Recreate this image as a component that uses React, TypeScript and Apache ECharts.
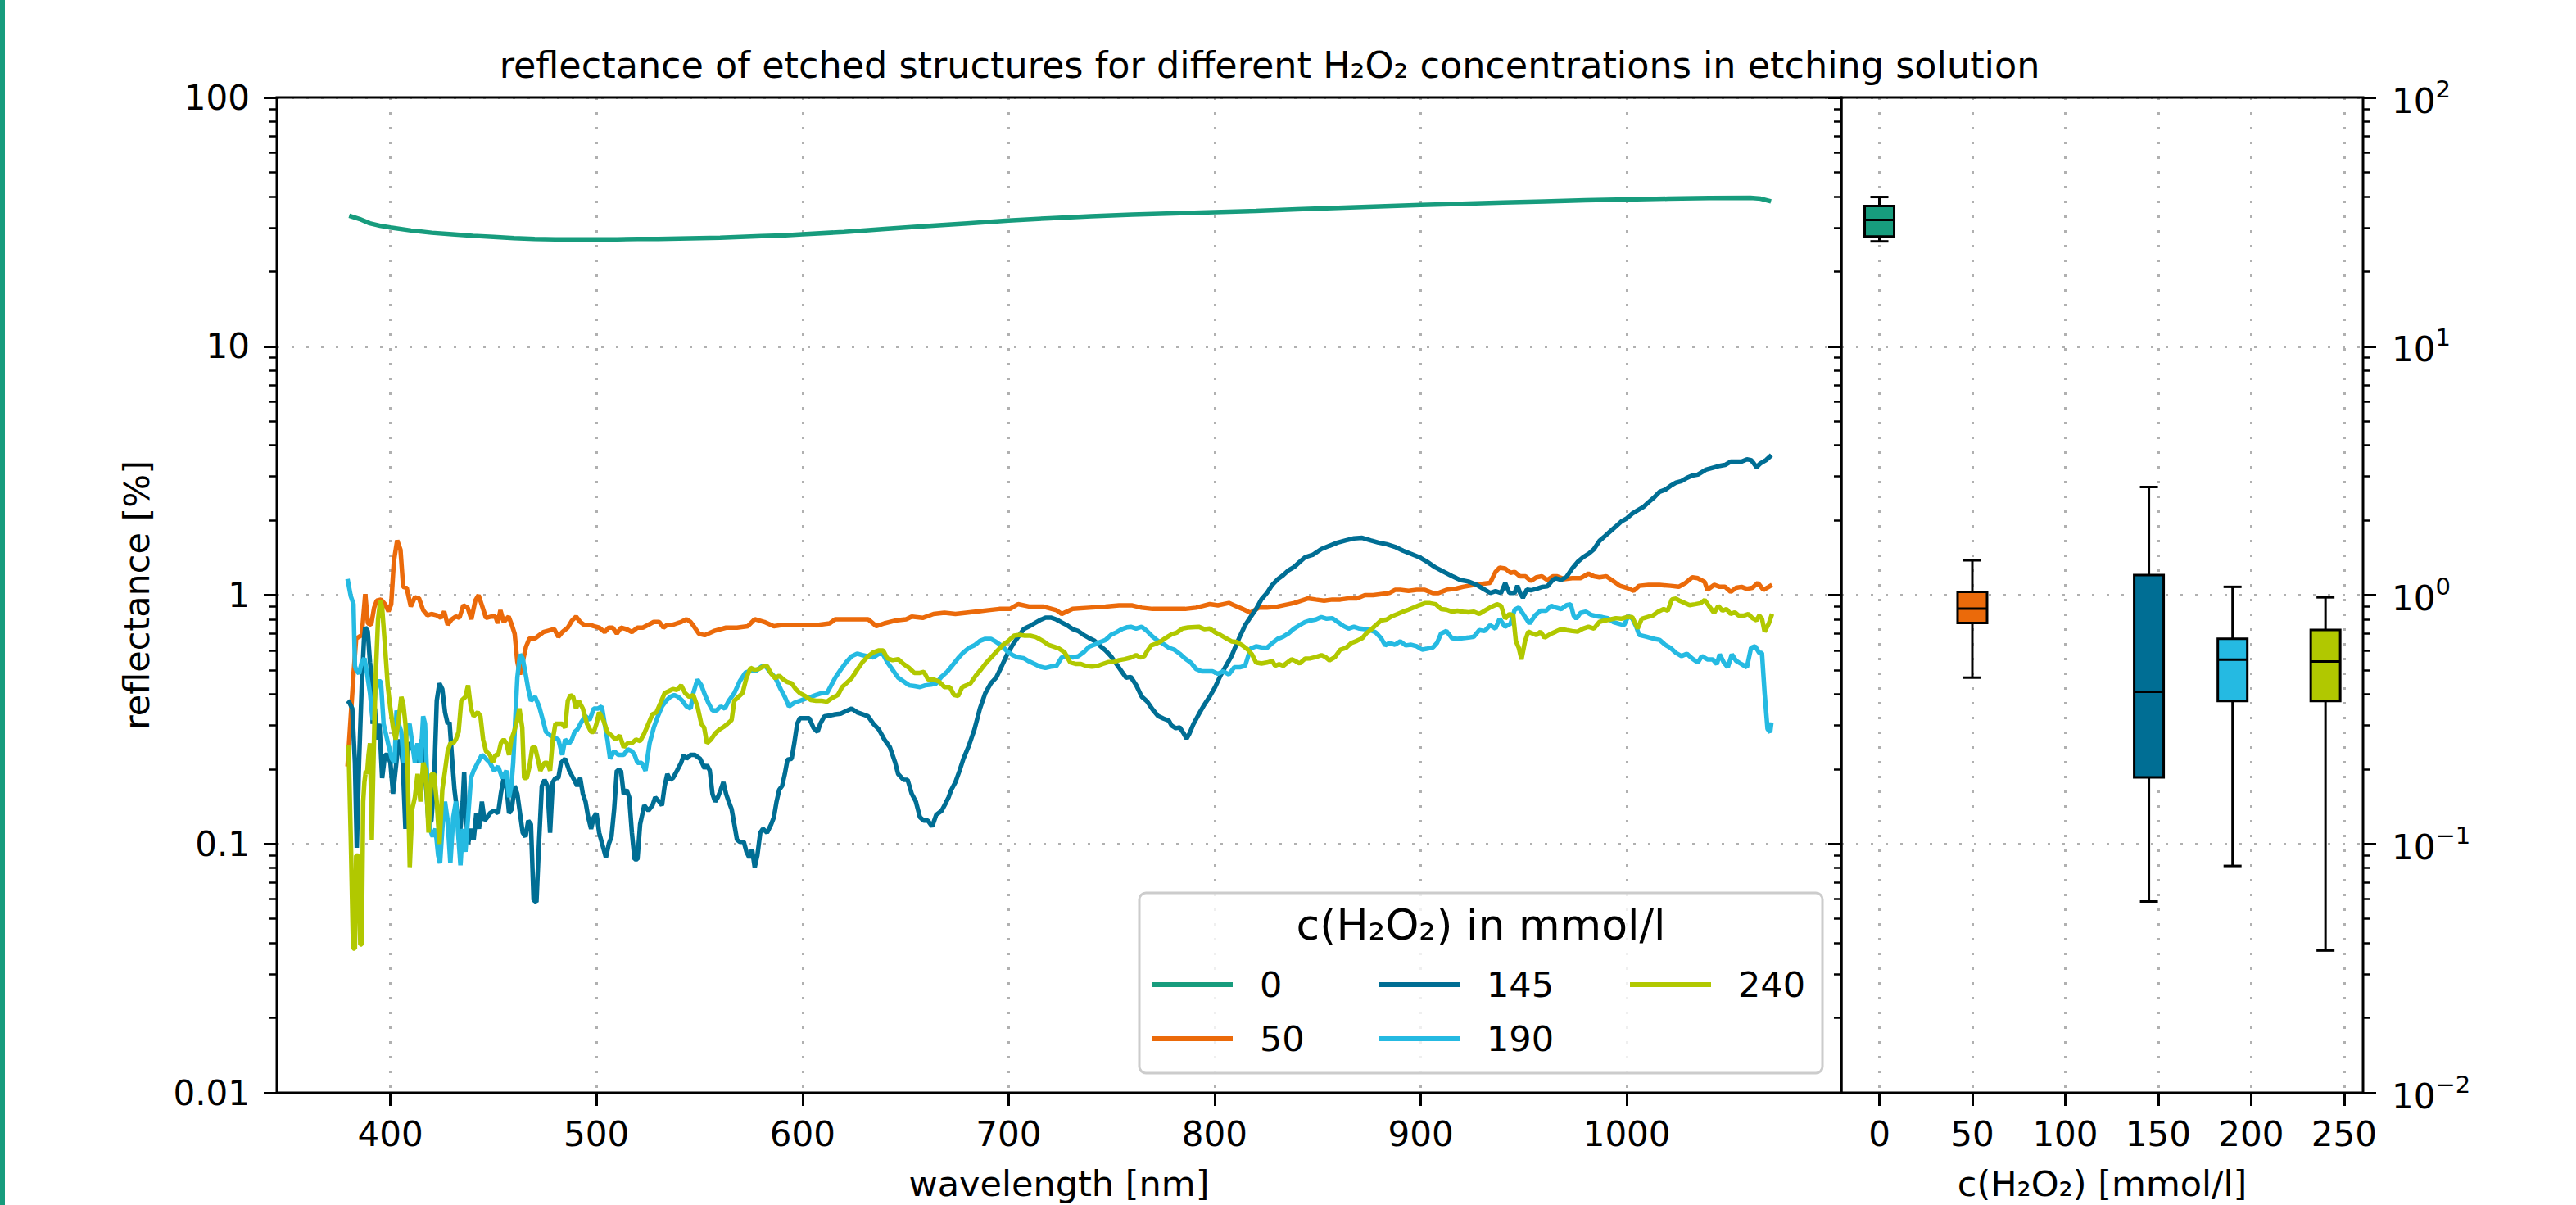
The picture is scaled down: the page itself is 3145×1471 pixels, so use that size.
import React, { useEffect, useRef } from 'react';
import * as echarts from 'echarts';

const FONT = 'DejaVu Sans';

const TITLE = 'reflectance of etched structures for different H\u2082O\u2082 concentrations in etching solution';
const LEGEND_TITLE = 'c(H\u2082O\u2082) in mmol/l';
const X_NAME_LEFT = 'wavelength [nm]';
const X_NAME_RIGHT = 'c(H\u2082O\u2082) [mmol/l]';
const Y_NAME = 'reflectance [%]';

const concentrations = ['0', '50', '145', '190', '240'];
const seriesColors = ['#179c7d', '#eb6a0a', '#006e94', '#25bae2', '#b1c800'];

const wavelengthTicks = [400, 500, 600, 700, 800, 900, 1000];
const concTicks = [0, 50, 100, 150, 200, 250];
const reflMajorTicks = [0.01, 0.1, 1, 10, 100];
const reflMajorLabels = ['0.01', '0.1', '1', '10', '100'];
const reflExpLabels = ['\u22122', '\u22121', '0', '1', '2'];
const reflMinorTicks = [
  0.02, 0.03, 0.04, 0.05, 0.06, 0.07, 0.08, 0.09,
  0.2, 0.3, 0.4, 0.5, 0.6, 0.7, 0.8, 0.9,
  2, 3, 4, 5, 6, 7, 8, 9,
  20, 30, 40, 50, 60, 70, 80, 90,
];

// reflectance spectra: [wavelength nm, reflectance %]
const refl0 = [
  [380, 33.5], [385, 32.5], [390, 31.2], [395, 30.5], [400, 30.0], [410, 29.2], [420, 28.6], [430, 28.2],
  [440, 27.8], [450, 27.5], [460, 27.2], [470, 27.0], [480, 26.9], [490, 26.9], [500, 26.9], [510, 26.9],
  [520, 27.0], [530, 27.0], [540, 27.1], [550, 27.2], [560, 27.3], [570, 27.5], [580, 27.7], [590, 27.9],
  [600, 28.2], [620, 28.8], [640, 29.6], [660, 30.4], [680, 31.2], [700, 32.0], [720, 32.7], [740, 33.3],
  [760, 33.8], [780, 34.2], [800, 34.6], [820, 35.0], [840, 35.5], [860, 36.0], [880, 36.5], [900, 37.0],
  [920, 37.4], [940, 37.8], [960, 38.2], [980, 38.6], [1000, 38.9], [1020, 39.2], [1040, 39.4], [1060, 39.5],
  [1065, 39.2], [1070, 38.2],
];

const refl50 = [
  [379.2, 0.205], [382.1, 0.48], [383.4, 0.67], [384.8, 0.68], [386.1, 0.69], [387.8, 1.01], [389.1, 0.77],
  [390.7, 0.76], [392.1, 0.89], [393.4, 0.95], [395.4, 0.96], [397.4, 0.92], [399.1, 0.86], [400.4, 0.92],
  [401.7, 1.37], [403.3, 1.66], [404.9, 1.52], [406.2, 1.08], [407.9, 1.07], [409.9, 0.90], [411.9, 0.98],
  [413.9, 0.97], [415.9, 0.87], [417.9, 0.83], [419.9, 0.84], [422.5, 0.83], [424.5, 0.81], [426.1, 0.86],
  [427.8, 0.76], [429.8, 0.80], [431.8, 0.82], [433.5, 0.81], [435.4, 0.91], [437.5, 0.89], [439.3, 0.80],
  [441.2, 0.95], [442.8, 1.00], [444.6, 0.90], [446.4, 0.81], [449.0, 0.82], [451.0, 0.82], [452.1, 0.77],
  [453.4, 0.87], [455.0, 0.78], [457.4, 0.82], [458.9, 0.76], [460.3, 0.70], [461.6, 0.54], [462.9, 0.48],
  [464.2, 0.54], [465.8, 0.62], [467.5, 0.67], [470.2, 0.67], [472.2, 0.69], [474.2, 0.71], [476.8, 0.72],
  [479.5, 0.73], [481.5, 0.68], [483.4, 0.71], [486.1, 0.74], [488.1, 0.79], [490.1, 0.82], [492.1, 0.78],
  [494.0, 0.76], [496.7, 0.76], [498.7, 0.75], [501.3, 0.74], [504.0, 0.71], [506.0, 0.74], [507.9, 0.74],
  [509.9, 0.70], [511.9, 0.74], [514.6, 0.73], [517.2, 0.71], [519.9, 0.74], [522.5, 0.74], [525.2, 0.76],
  [527.8, 0.78], [530.5, 0.78], [532.5, 0.74], [534.4, 0.76], [537.1, 0.76], [539.1, 0.77], [541.1, 0.78],
  [543.7, 0.80], [545.7, 0.78], [547.7, 0.74], [549.7, 0.70], [552.5, 0.69],
  [557.6, 0.72], [562.9, 0.74], [568.2, 0.74], [573.5, 0.75], [576.8, 0.80], [581.5, 0.78], [586.1, 0.75],
  [590.7, 0.76], [596.0, 0.76], [601.3, 0.76], [607.9, 0.76], [613.2, 0.77], [615.9, 0.80], [621.2, 0.80],
  [626.5, 0.80], [631.8, 0.80], [635.8, 0.75], [639.7, 0.77], [645.0, 0.79], [650.3, 0.80], [653.0, 0.82],
  [658.3, 0.81], [663.6, 0.84], [668.9, 0.85], [674.2, 0.84], [679.5, 0.85], [684.8, 0.86], [690.1, 0.87],
  [695.4, 0.88], [700.7, 0.88], [704.6, 0.92], [709.9, 0.90], [716.6, 0.90], [723.2, 0.87], [725.8, 0.84],
  [731.1, 0.88], [739.1, 0.89], [747.0, 0.90], [753.6, 0.91], [759.7, 0.91],
  [764.6, 0.89], [769.9, 0.88], [775.2, 0.88], [780.4, 0.88], [785.7, 0.88], [791.0, 0.89], [797.6, 0.92],
  [801.6, 0.91], [806.9, 0.93], [809.5, 0.91], [813.5, 0.88], [817.4, 0.85], [821.4, 0.89], [825.4, 0.89],
  [830.6, 0.90], [838.6, 0.93], [845.2, 0.97], [849.1, 0.96], [853.1, 0.95], [857.1, 0.96], [861.0, 0.96],
  [865.0, 0.97], [869.0, 0.97], [872.9, 1.00], [876.9, 1.00], [880.8, 1.01], [884.8, 1.02], [887.5, 1.05],
  [890.1, 1.05], [894.1, 1.04], [898.0, 1.05], [902.0, 1.05], [905.9, 1.02], [908.6, 1.02], [912.5, 1.05],
  [916.5, 1.06], [920.5, 1.08], [925.8, 1.10], [929.7, 1.11], [933.7, 1.12], [936.3, 1.24], [938.3, 1.29],
  [940.9, 1.28], [943.6, 1.23], [945.6, 1.24], [948.2, 1.19], [950.9, 1.19], [953.5, 1.14], [956.1, 1.18],
  [958.8, 1.19], [961.4, 1.15], [964.1, 1.19], [966.2, 1.19],
  [969.5, 1.16], [973.5, 1.17], [977.5, 1.17], [981.4, 1.22], [984.1, 1.19], [986.7, 1.18], [990.1, 1.19],
  [993.4, 1.14], [996.7, 1.09], [1000.0, 1.07], [1003.3, 1.04], [1006.0, 1.09], [1010.6, 1.10], [1015.9, 1.10],
  [1021.2, 1.09], [1025.2, 1.08], [1028.5, 1.12], [1031.8, 1.18], [1034.5, 1.17], [1037.8, 1.13], [1039.1, 1.05],
  [1042.4, 1.10], [1045.1, 1.08], [1047.7, 1.08], [1050.4, 1.03], [1053.0, 1.07], [1055.7, 1.08], [1058.3, 1.06],
  [1061.0, 1.07], [1063.6, 1.12], [1066.3, 1.05], [1068.9, 1.08], [1070.5, 1.10],
];

const refl145 = [
  [379.2, 0.376], [380.1, 0.370], [381.5, 0.350], [382.8, 0.212], [383.7, 0.0965], [384.8, 0.212], [386.1, 0.434],
  [387.2, 0.667], [387.8, 0.743], [389.0, 0.717], [390.1, 0.538], [390.7, 0.483], [391.4, 0.304], [392.5, 0.350],
  [393.4, 0.263], [394.7, 0.304], [396.0, 0.184], [397.4, 0.228], [398.7, 0.228], [400.0, 0.212], [401.3, 0.159],
  [402.3, 0.191], [403.3, 0.228], [404.6, 0.263], [406.0, 0.212], [407.3, 0.115], [408.6, 0.254], [409.9, 0.249],
  [411.3, 0.236], [412.6, 0.245], [413.9, 0.212], [415.2, 0.263], [416.6, 0.197], [417.6, 0.159], [418.5, 0.120],
  [419.9, 0.124], [421.2, 0.177], [422.5, 0.376], [423.8, 0.442], [425.2, 0.419], [426.5, 0.338], [427.8, 0.304],
  [428.7, 0.309], [429.8, 0.228], [431.1, 0.165], [432.5, 0.133], [433.8, 0.111], [435.1, 0.148], [435.8, 0.194],
  [436.4, 0.143], [437.7, 0.100], [439.1, 0.115], [440.4, 0.104], [441.7, 0.133], [443.0, 0.115], [444.4, 0.148],
  [445.7, 0.124], [447.0, 0.128], [448.3, 0.133], [450.3, 0.136], [452.3, 0.133], [453.6, 0.159], [455.0, 0.184],
  [456.3, 0.171], [457.6, 0.133], [458.9, 0.138], [460.3, 0.171], [461.6, 0.159], [462.9, 0.133], [464.2, 0.111],
  [465.6, 0.107], [466.9, 0.124], [468.2, 0.120], [469.5, 0.0595], [470.9, 0.0584], [472.2, 0.104], [473.5, 0.171],
  [474.8, 0.181], [476.2, 0.171], [477.5, 0.111], [478.8, 0.177], [480.1, 0.184], [481.5, 0.184], [482.8, 0.212],
  [484.8, 0.220], [486.8, 0.197], [488.7, 0.184], [490.7, 0.171], [492.1, 0.184], [493.4, 0.159], [494.7, 0.148],
  [496.0, 0.128], [497.4, 0.115], [498.7, 0.128], [500.0, 0.133], [501.3, 0.111], [503.3, 0.0965], [504.6, 0.0883],
  [506.0, 0.100], [507.3, 0.107], [508.6, 0.138], [509.9, 0.197], [511.9, 0.197], [513.2, 0.159], [514.6, 0.165],
  [515.9, 0.154], [517.2, 0.111], [518.5, 0.0867], [519.9, 0.0867], [521.2, 0.120], [523.2, 0.143], [525.2, 0.136],
  [527.2, 0.143], [528.5, 0.154], [530.5, 0.148], [531.8, 0.143], [533.1, 0.171], [534.4, 0.191], [535.8, 0.181],
  [537.1, 0.184], [539.1, 0.197], [541.1, 0.212], [542.4, 0.228], [543.7, 0.220], [545.7, 0.228], [547.7, 0.228],
  [550.3, 0.220], [552.5, 0.201],
  [553.6, 0.208], [555.0, 0.197], [556.3, 0.159], [557.6, 0.148], [558.9, 0.154], [560.3, 0.165], [561.6, 0.177],
  [562.9, 0.159], [564.2, 0.148], [565.6, 0.138], [566.9, 0.120], [568.2, 0.104], [569.5, 0.102], [571.5, 0.102],
  [572.8, 0.093], [574.2, 0.088], [575.5, 0.095], [576.8, 0.0807], [578.1, 0.090], [579.5, 0.111], [580.8, 0.115],
  [582.8, 0.111], [584.8, 0.120], [586.1, 0.128], [587.4, 0.148], [588.7, 0.165], [590.1, 0.171], [591.4, 0.191],
  [592.7, 0.218], [594.7, 0.220], [596.0, 0.254], [597.4, 0.304], [598.7, 0.320], [601.3, 0.320], [603.3, 0.320],
  [605.3, 0.293], [607.3, 0.282], [608.6, 0.304], [610.6, 0.326], [613.2, 0.328], [615.9, 0.332], [618.5, 0.334],
  [621.2, 0.342], [623.8, 0.350], [626.5, 0.338], [629.1, 0.332], [631.8, 0.326], [634.4, 0.304], [637.1, 0.288],
  [639.7, 0.263], [642.4, 0.245], [645.0, 0.212], [646.4, 0.191], [649.0, 0.181], [651.0, 0.181], [653.0, 0.159],
  [655.0, 0.148], [657.0, 0.128], [658.9, 0.124], [660.9, 0.124], [662.9, 0.1175], [664.9, 0.131], [667.5, 0.136],
  [669.5, 0.146], [670.9, 0.154], [672.2, 0.165], [674.2, 0.177], [676.2, 0.197], [678.1, 0.220], [680.8, 0.249],
  [683.4, 0.288], [686.1, 0.350], [688.7, 0.404], [691.4, 0.442], [694.0, 0.466], [696.7, 0.519], [699.3, 0.578],
  [702.0, 0.632], [704.6, 0.679], [707.3, 0.730], [709.9, 0.748], [712.6, 0.770], [715.2, 0.793], [717.9, 0.812],
  [720.5, 0.812], [723.2, 0.798], [725.8, 0.776], [728.5, 0.756], [731.1, 0.730], [733.8, 0.717], [736.4, 0.692],
  [739.1, 0.672], [741.7, 0.655], [744.4, 0.626], [747.0, 0.600], [749.7, 0.568], [752.3, 0.529], [755.0, 0.492],
  [757.0, 0.466],
  [759.3, 0.469], [761.9, 0.435], [764.6, 0.391], [767.2, 0.374], [769.9, 0.347], [772.5, 0.327], [775.2, 0.319],
  [777.8, 0.313], [779.1, 0.299], [781.1, 0.292], [783.1, 0.294], [785.1, 0.277], [786.4, 0.265], [787.7, 0.277],
  [789.7, 0.303], [792.3, 0.332], [795.0, 0.363], [797.6, 0.391], [800.3, 0.428], [802.9, 0.476], [805.5, 0.520],
  [808.2, 0.569], [810.2, 0.623], [812.2, 0.681], [814.8, 0.757], [817.4, 0.816], [820.1, 0.879], [822.7, 0.962],
  [825.4, 1.021], [828.0, 1.101], [830.6, 1.158], [833.3, 1.204], [835.9, 1.260], [838.6, 1.298], [841.2, 1.358],
  [843.9, 1.420], [847.8, 1.455], [851.8, 1.531], [855.7, 1.578], [859.7, 1.626], [863.7, 1.660], [867.6, 1.690],
  [871.6, 1.700], [875.6, 1.660], [879.5, 1.626], [883.5, 1.602], [887.5, 1.563], [891.4, 1.508], [895.4, 1.464],
  [899.3, 1.420], [903.3, 1.358], [907.3, 1.290], [911.2, 1.241], [915.2, 1.193], [919.2, 1.151], [923.1, 1.134],
  [927.1, 1.101], [931.1, 1.052], [933.7, 1.021], [936.3, 1.037], [939.0, 1.021], [941.0, 1.117], [943.0, 1.021],
  [945.6, 1.021], [946.9, 1.091], [948.2, 1.021], [949.6, 0.976], [951.5, 1.052], [953.5, 1.046], [956.1, 1.059],
  [958.8, 1.078], [961.4, 1.084], [964.1, 1.151],
  [965.5, 1.169], [968.2, 1.151], [970.8, 1.186], [973.5, 1.279], [976.1, 1.358], [978.8, 1.420], [981.4, 1.464],
  [984.1, 1.531], [986.7, 1.650], [989.4, 1.726], [992.0, 1.805], [994.7, 1.888], [997.3, 1.975], [1000.0, 2.035],
  [1002.7, 2.129], [1005.3, 2.193], [1008.0, 2.260], [1010.6, 2.364], [1013.3, 2.473], [1015.9, 2.603],
  [1018.6, 2.650], [1021.2, 2.747], [1023.9, 2.831], [1026.5, 2.873], [1029.2, 2.960], [1031.8, 3.023],
  [1034.5, 3.050], [1038.4, 3.19], [1042.4, 3.26], [1045.1, 3.307], [1047.7, 3.337], [1050.4, 3.44], [1053.0, 3.44],
  [1055.7, 3.44], [1058.3, 3.512], [1060.3, 3.49], [1061.6, 3.388], [1063.0, 3.268], [1064.9, 3.388],
  [1067.6, 3.49], [1070.2, 3.652],
];

const refl190 = [
  [379.2, 1.162], [380.8, 0.989], [382.1, 0.921], [382.8, 0.519], [383.4, 0.501], [384.8, 0.483], [386.1, 0.538],
  [387.4, 0.558], [388.7, 0.483], [390.1, 0.404], [391.4, 0.315], [392.7, 0.404], [394.0, 0.450], [395.4, 0.450],
  [396.7, 0.304], [398.0, 0.273], [399.3, 0.245], [400.7, 0.220], [402.0, 0.212], [403.0, 0.344], [404.0, 0.304],
  [405.3, 0.282], [406.6, 0.212], [407.9, 0.282], [409.3, 0.304], [410.6, 0.254], [411.9, 0.212], [413.2, 0.254],
  [414.6, 0.212], [415.9, 0.326], [416.8, 0.304], [417.9, 0.177], [419.2, 0.115], [420.5, 0.107], [421.9, 0.115],
  [423.2, 0.0898], [424.1, 0.0836], [425.2, 0.115], [426.5, 0.148], [427.8, 0.124], [429.1, 0.0836], [430.5, 0.128],
  [431.8, 0.148], [433.1, 0.104], [434.0, 0.0821], [435.1, 0.115], [436.4, 0.093], [437.7, 0.128], [439.1, 0.184],
  [440.4, 0.197], [442.4, 0.212], [444.4, 0.228], [446.4, 0.220], [448.3, 0.212], [450.3, 0.197], [452.3, 0.205],
  [454.3, 0.184], [456.3, 0.197], [457.6, 0.154], [458.7, 0.171], [459.6, 0.212], [460.5, 0.304], [461.6, 0.466],
  [462.9, 0.578], [464.2, 0.558], [465.6, 0.483], [466.9, 0.419], [468.2, 0.376], [470.2, 0.390], [472.2, 0.357],
  [473.5, 0.326], [475.5, 0.282], [477.5, 0.273], [479.5, 0.268], [481.5, 0.263], [483.4, 0.228], [484.8, 0.263],
  [486.8, 0.254], [488.1, 0.263], [489.4, 0.282], [490.7, 0.288], [492.7, 0.309], [494.7, 0.326], [496.7, 0.315],
  [498.7, 0.350], [500.7, 0.350], [502.6, 0.357], [504.0, 0.304], [505.3, 0.263], [506.6, 0.220], [508.6, 0.236],
  [510.6, 0.228], [513.2, 0.228], [515.2, 0.240], [517.2, 0.236], [518.5, 0.228], [519.9, 0.212], [521.9, 0.212],
  [523.8, 0.197], [525.8, 0.254], [527.8, 0.293], [529.8, 0.326], [531.8, 0.357], [533.8, 0.376], [535.8, 0.390],
  [537.7, 0.397], [539.7, 0.390], [541.7, 0.376], [543.7, 0.357], [545.7, 0.350], [547.0, 0.404], [549.0, 0.458],
  [550.9, 0.434],
  [552.3, 0.404], [554.3, 0.369], [556.3, 0.344], [558.3, 0.344], [560.3, 0.357], [562.3, 0.350], [564.2, 0.376],
  [566.9, 0.404], [569.5, 0.450], [572.2, 0.487], [574.8, 0.497], [577.5, 0.497], [580.1, 0.516], [582.1, 0.519],
  [584.1, 0.492], [586.8, 0.466], [589.4, 0.419], [591.4, 0.390], [593.4, 0.357], [596.0, 0.369], [598.7, 0.376],
  [601.3, 0.383], [604.0, 0.390], [606.6, 0.397], [609.3, 0.404], [611.9, 0.404], [613.9, 0.434], [615.9, 0.466],
  [618.5, 0.501], [621.2, 0.538], [623.8, 0.568], [626.5, 0.582], [629.1, 0.574], [631.8, 0.568], [634.4, 0.562],
  [637.1, 0.582], [639.1, 0.578], [641.1, 0.538], [643.7, 0.501], [646.4, 0.466], [649.0, 0.450], [651.7, 0.434],
  [654.3, 0.431], [657.0, 0.427], [659.6, 0.434], [662.3, 0.437], [664.9, 0.442], [667.5, 0.470], [670.2, 0.492],
  [672.8, 0.523], [675.5, 0.558], [678.1, 0.589], [680.8, 0.614], [683.4, 0.628], [686.1, 0.655], [688.7, 0.667],
  [691.4, 0.667], [694.0, 0.648], [696.7, 0.626], [699.3, 0.595], [702.0, 0.574], [704.6, 0.562], [707.3, 0.558],
  [709.9, 0.542], [712.6, 0.529], [715.2, 0.516], [717.9, 0.510], [720.5, 0.516], [723.2, 0.519], [725.8, 0.562],
  [728.5, 0.568], [731.1, 0.562], [733.8, 0.568], [736.4, 0.589], [739.1, 0.621], [741.7, 0.632], [744.4, 0.648],
  [747.0, 0.660], [749.7, 0.692], [752.3, 0.709], [755.0, 0.730], [757.6, 0.743],
  [759.3, 0.746], [761.9, 0.734], [764.6, 0.746], [767.2, 0.717], [769.9, 0.681], [772.5, 0.655], [775.2, 0.636],
  [777.8, 0.614], [780.4, 0.604], [783.1, 0.581], [785.7, 0.556], [788.4, 0.536], [791.0, 0.505], [793.7, 0.494],
  [796.3, 0.494], [798.9, 0.494], [801.6, 0.483], [804.2, 0.494], [806.9, 0.480], [809.5, 0.513], [812.2, 0.513],
  [814.8, 0.520], [817.4, 0.610], [820.1, 0.623], [822.7, 0.617], [825.4, 0.614], [828.0, 0.642], [830.6, 0.667],
  [833.3, 0.681], [835.9, 0.702], [838.6, 0.734], [841.2, 0.757], [843.9, 0.780], [846.5, 0.791], [849.1, 0.798],
  [851.8, 0.816], [854.4, 0.804], [857.1, 0.808], [859.7, 0.780], [862.4, 0.752], [865.0, 0.734], [867.6, 0.746],
  [870.3, 0.734], [872.9, 0.730], [875.6, 0.723], [878.2, 0.708], [880.8, 0.671], [882.8, 0.628], [884.8, 0.642],
  [887.5, 0.632], [890.1, 0.652], [892.7, 0.628], [895.4, 0.632], [898.0, 0.623], [900.7, 0.604], [903.3, 0.610],
  [906.0, 0.617], [907.9, 0.642], [909.9, 0.702], [912.5, 0.717], [915.2, 0.671], [917.8, 0.667], [920.5, 0.671],
  [923.1, 0.675], [925.8, 0.681], [928.4, 0.723], [931.0, 0.717], [933.7, 0.757], [936.3, 0.734], [938.3, 0.804],
  [940.9, 0.746], [943.6, 0.768], [945.6, 0.874], [947.6, 0.892], [950.2, 0.828], [952.8, 0.768], [955.5, 0.828],
  [958.1, 0.866], [960.8, 0.866], [963.4, 0.906],
  [965.5, 0.892], [968.2, 0.879], [970.8, 0.911], [972.8, 0.919], [974.2, 0.828], [975.5, 0.804], [977.5, 0.848],
  [980.1, 0.858], [982.8, 0.833], [985.4, 0.823], [988.1, 0.816], [990.7, 0.808], [993.4, 0.780], [996.0, 0.768],
  [998.7, 0.757], [1000.7, 0.823], [1002.7, 0.804], [1004.6, 0.746], [1006.0, 0.692], [1009.3, 0.681],
  [1013.3, 0.667], [1015.9, 0.661], [1018.6, 0.632], [1021.2, 0.614], [1023.9, 0.586], [1026.5, 0.569],
  [1029.2, 0.581], [1031.8, 0.556], [1034.5, 0.536], [1036.4, 0.569], [1039.1, 0.552], [1041.7, 0.552],
  [1043.7, 0.528], [1045.1, 0.578], [1047.1, 0.536], [1049.0, 0.513], [1051.0, 0.578], [1053.0, 0.545],
  [1055.7, 0.528], [1058.3, 0.513], [1060.3, 0.614], [1062.3, 0.623], [1064.3, 0.586], [1065.6, 0.586],
  [1066.9, 0.403], [1068.3, 0.290], [1069.6, 0.281], [1070.2, 0.308],
];

const refl240 = [
  [379.7, 0.249], [380.8, 0.104], [381.9, 0.038], [382.8, 0.038], [383.4, 0.0898], [384.4, 0.0898], [385.4, 0.0394],
  [386.1, 0.0394], [386.8, 0.148], [387.4, 0.177], [388.1, 0.197], [388.7, 0.191], [389.4, 0.228], [390.1, 0.254],
  [391.0, 0.104], [391.7, 0.197], [392.7, 0.434], [394.0, 0.798], [395.1, 0.954], [396.0, 0.889], [397.4, 0.621],
  [398.7, 0.434], [400.0, 0.350], [401.3, 0.293], [402.6, 0.263], [404.0, 0.315], [405.3, 0.390], [406.2, 0.369],
  [407.3, 0.304], [408.3, 0.212], [409.4, 0.0807], [410.6, 0.138], [411.9, 0.154], [413.2, 0.191], [414.6, 0.148],
  [415.9, 0.212], [417.2, 0.197], [418.5, 0.111], [419.9, 0.191], [421.2, 0.191], [422.5, 0.148], [423.8, 0.100],
  [425.2, 0.165], [426.5, 0.197], [427.8, 0.236], [429.1, 0.254], [430.5, 0.254], [431.8, 0.263], [433.1, 0.282],
  [434.4, 0.376], [436.4, 0.390], [437.7, 0.434], [439.1, 0.350], [440.4, 0.326], [442.4, 0.338], [443.7, 0.326],
  [445.0, 0.263], [446.4, 0.236], [448.3, 0.228], [449.7, 0.212], [451.0, 0.228], [452.3, 0.228], [453.6, 0.254],
  [455.0, 0.263], [456.3, 0.254], [457.6, 0.228], [458.7, 0.263], [460.0, 0.282], [461.3, 0.309], [462.6, 0.350],
  [464.0, 0.293], [464.9, 0.184], [466.2, 0.184], [467.5, 0.205], [468.9, 0.245], [470.2, 0.245], [471.5, 0.220],
  [472.8, 0.197], [474.8, 0.212], [476.2, 0.212], [477.5, 0.197], [478.8, 0.263], [480.1, 0.304], [481.5, 0.304],
  [483.4, 0.304], [484.8, 0.293], [486.1, 0.376], [487.4, 0.397], [488.7, 0.390], [490.1, 0.350], [491.4, 0.376],
  [493.4, 0.350], [495.4, 0.304], [497.4, 0.282], [498.7, 0.282], [500.0, 0.304], [501.3, 0.338], [503.3, 0.315],
  [505.3, 0.282], [507.3, 0.273], [509.3, 0.263], [511.3, 0.273], [513.2, 0.245], [515.2, 0.254], [517.2, 0.254],
  [519.2, 0.263], [521.2, 0.259], [523.2, 0.278], [525.2, 0.304], [527.2, 0.332], [529.1, 0.338], [531.1, 0.369],
  [533.1, 0.404], [535.1, 0.411], [537.1, 0.419], [539.1, 0.416], [541.1, 0.434], [543.0, 0.404], [545.0, 0.390],
  [547.0, 0.397], [549.0, 0.357], [550.9, 0.304],
  [552.3, 0.293], [553.6, 0.254], [555.6, 0.263], [557.6, 0.278], [559.6, 0.288], [561.6, 0.295], [563.6, 0.304],
  [565.6, 0.315], [566.9, 0.376], [568.9, 0.390], [570.9, 0.404], [572.8, 0.466], [574.8, 0.510], [576.8, 0.501],
  [578.8, 0.505], [580.8, 0.516], [582.8, 0.519], [584.8, 0.483], [586.8, 0.463], [588.7, 0.475], [590.7, 0.458],
  [592.7, 0.447], [594.7, 0.442], [596.7, 0.419], [598.7, 0.404], [601.3, 0.393], [604.0, 0.379], [606.6, 0.376],
  [609.3, 0.376], [611.9, 0.373], [614.6, 0.387], [617.2, 0.397], [619.2, 0.427], [621.2, 0.442], [623.8, 0.463],
  [626.5, 0.501], [629.1, 0.538], [631.8, 0.568], [634.4, 0.589], [637.1, 0.600], [639.1, 0.600], [641.1, 0.558],
  [643.7, 0.548], [646.4, 0.553], [649.0, 0.529], [651.7, 0.510], [654.3, 0.487], [657.0, 0.487], [658.9, 0.492],
  [660.9, 0.458], [663.6, 0.458], [666.2, 0.450], [668.9, 0.427], [671.5, 0.427], [673.5, 0.397], [675.5, 0.393],
  [677.5, 0.427], [679.5, 0.434], [681.5, 0.442], [684.1, 0.475], [686.8, 0.505], [689.4, 0.538], [692.1, 0.568],
  [694.7, 0.600], [697.4, 0.632], [700.0, 0.655], [702.6, 0.687], [705.3, 0.692], [707.9, 0.687], [710.6, 0.687],
  [713.2, 0.679], [716.6, 0.655], [719.2, 0.632], [721.9, 0.621], [724.5, 0.610], [727.2, 0.589], [729.8, 0.538],
  [732.5, 0.529], [735.1, 0.529], [737.7, 0.519], [740.4, 0.516], [743.0, 0.519], [745.7, 0.529], [748.3, 0.538],
  [751.0, 0.538], [753.6, 0.548], [756.3, 0.553],
  [759.3, 0.561], [761.9, 0.574], [763.9, 0.561], [765.9, 0.569], [767.2, 0.595], [769.2, 0.628], [771.2, 0.636],
  [773.8, 0.652], [776.5, 0.675], [779.1, 0.696], [781.8, 0.708], [784.4, 0.734], [787.1, 0.741], [792.3, 0.746],
  [795.0, 0.730], [797.6, 0.734], [800.3, 0.708], [802.9, 0.691], [805.5, 0.671], [808.2, 0.652], [810.8, 0.648],
  [813.5, 0.628], [816.1, 0.604], [818.1, 0.578], [820.1, 0.536], [822.7, 0.531], [825.4, 0.536], [828.0, 0.544],
  [829.3, 0.520], [831.3, 0.528], [833.3, 0.520], [835.3, 0.536], [837.3, 0.552], [839.2, 0.544], [841.2, 0.531],
  [843.9, 0.556], [846.5, 0.557], [849.1, 0.564], [851.8, 0.574], [853.8, 0.564], [855.7, 0.547], [858.4, 0.564],
  [861.0, 0.604], [863.7, 0.614], [866.3, 0.642], [869.0, 0.655], [871.6, 0.671], [873.6, 0.702], [875.6, 0.723],
  [878.2, 0.757], [880.8, 0.791], [883.5, 0.798], [886.1, 0.823], [888.8, 0.840], [891.4, 0.858], [894.1, 0.874],
  [896.7, 0.892], [899.3, 0.911], [902.0, 0.928], [904.6, 0.928], [907.3, 0.919], [909.9, 0.879], [912.5, 0.874],
  [915.2, 0.858], [917.8, 0.866], [920.5, 0.858], [923.1, 0.853], [925.8, 0.858], [928.4, 0.840], [931.1, 0.866],
  [933.7, 0.892], [937.0, 0.919], [939.0, 0.906], [941.0, 0.804], [943.0, 0.840], [944.9, 0.828], [946.2, 0.652],
  [947.6, 0.614], [948.9, 0.552], [950.6, 0.652], [952.2, 0.713], [954.2, 0.702], [956.1, 0.691], [958.1, 0.713],
  [960.1, 0.675], [962.7, 0.696],
  [965.5, 0.713], [968.2, 0.730], [970.8, 0.723], [973.5, 0.717], [976.1, 0.713], [978.8, 0.734], [981.4, 0.746],
  [984.1, 0.734], [986.7, 0.780], [989.4, 0.791], [992.0, 0.798], [994.7, 0.808], [997.3, 0.804], [1000.0, 0.816],
  [1002.7, 0.816], [1005.3, 0.734], [1007.3, 0.804], [1009.9, 0.816], [1012.6, 0.828], [1015.2, 0.858],
  [1017.9, 0.879], [1019.9, 0.866], [1021.9, 0.962], [1023.9, 0.968], [1025.8, 0.948], [1027.8, 0.933],
  [1030.5, 0.911], [1033.1, 0.919], [1035.8, 0.928], [1037.8, 0.956], [1039.8, 0.906], [1042.4, 0.848],
  [1044.4, 0.906], [1046.4, 0.866], [1048.4, 0.879], [1050.4, 0.840], [1052.4, 0.853], [1054.3, 0.828],
  [1057.0, 0.828], [1059.0, 0.840], [1061.0, 0.808], [1063.0, 0.791], [1064.3, 0.828], [1065.6, 0.804],
  [1066.9, 0.713], [1068.9, 0.768], [1070.5, 0.840],
];

const spectra = [refl0, refl50, refl145, refl190, refl240];

// box plot statistics per H2O2 concentration: [min, q1, median, q3, max]
const boxPositions = [0, 50, 145, 190, 240];
const boxStats = [
  [26.4, 27.6, 32.2, 36.6, 39.8],
  [0.466, 0.773, 0.883, 1.03, 1.38],
  [0.0587, 0.185, 0.409, 1.205, 2.72],
  [0.0816, 0.3755, 0.55, 0.668, 1.08],
  [0.0373, 0.3755, 0.541, 0.724, 0.98],
];

const expIndex = (v: number) => Math.round(Math.log10(v)) + 2;

export default function App() {
  const ref = useRef<HTMLDivElement>(null);

  useEffect(() => {
    if (!ref.current) return;
    const chart = echarts.init(ref.current, null, { renderer: 'svg', width: 3145, height: 1471 });

    const dotted = { color: '#b0b0b0', width: 3, type: [3, 15] };
    const majorTick = { color: '#000', width: 3 };
    const minorTick = { color: '#000', width: 2.5 };
    const labelBase = { fontFamily: FONT, fontSize: 42, color: '#000' };
    const nameStyle = { fontFamily: FONT, fontSize: 43, color: '#000' };

    const logAxisBase = {
      type: 'log',
      logBase: 10,
      min: 0.01,
      max: 100,
      axisLine: { show: false, onZero: false },
      nameMoveOverlap: false,
    };

    const gridBase = {
      top: 119, height: 1215, show: true, borderColor: '#000', borderWidth: 3,
      backgroundColor: 'transparent', containLabel: false, outerBoundsMode: 'none', z: 10,
    };

    const option: any = {
      animation: false,
      backgroundColor: '#ffffff',
      textStyle: { fontFamily: FONT },
      grid: [
        { ...gridBase, left: 338, width: 1910 },
        { ...gridBase, left: 2248, width: 637 },
      ],
      xAxis: [
        {
          type: 'value', gridIndex: 0, position: 'bottom', min: 344.9, max: 1104.1,
          axisLine: { show: false, onZero: false },
          axisTick: { show: true, inside: false, length: 16, lineStyle: majorTick, customValues: wavelengthTicks },
          axisLabel: { ...labelBase, margin: 29, customValues: wavelengthTicks, formatter: (v: number) => String(v) },
          splitLine: { show: true, lineStyle: dotted },
          name: X_NAME_LEFT, nameLocation: 'middle', nameGap: 89, nameTextStyle: nameStyle, nameMoveOverlap: false,
        },
        {
          type: 'value', gridIndex: 1, position: 'bottom', min: -20.5, max: 260.2,
          axisLine: { show: false, onZero: false },
          axisTick: { show: true, inside: false, length: 16, lineStyle: majorTick, customValues: concTicks },
          axisLabel: { ...labelBase, margin: 29, customValues: concTicks, formatter: (v: number) => String(v) },
          splitLine: { show: true, lineStyle: dotted },
          name: X_NAME_RIGHT, nameLocation: 'middle', nameGap: 89, nameTextStyle: nameStyle, nameMoveOverlap: false,
        },
      ],
      yAxis: [
        {
          ...logAxisBase, gridIndex: 0, position: 'left',
          axisTick: { show: true, inside: false, length: 16, lineStyle: majorTick, customValues: reflMajorTicks },
          axisLabel: { ...labelBase, margin: 33, customValues: reflMajorTicks, formatter: (v: number) => reflMajorLabels[expIndex(v)] },
          splitLine: { show: true, lineStyle: dotted },
          name: Y_NAME, nameLocation: 'middle', nameGap: 150, nameRotate: 90, nameTextStyle: nameStyle,
        },
        {
          ...logAxisBase, gridIndex: 0, position: 'left',
          axisTick: { show: true, inside: false, length: 9, lineStyle: minorTick, customValues: reflMinorTicks },
          axisLabel: { show: false },
          splitLine: { show: false },
        },
        {
          ...logAxisBase, gridIndex: 1, position: 'right',
          axisTick: { show: true, inside: false, length: 16, lineStyle: majorTick, customValues: reflMajorTicks },
          axisLabel: {
            margin: 35,
            customValues: reflMajorTicks,
            formatter: (v: number) => `{b|10}{s|${reflExpLabels[expIndex(v)]}}`,
            rich: {
              b: { fontFamily: FONT, fontSize: 42, color: '#000', lineHeight: 50, verticalAlign: 'bottom' },
              s: { fontFamily: FONT, fontSize: 29, color: '#000', lineHeight: 30, verticalAlign: 'top' },
            },
          },
          splitLine: { show: true, lineStyle: dotted },
        },
        {
          ...logAxisBase, gridIndex: 1, position: 'right',
          axisTick: { show: true, inside: false, length: 9, lineStyle: minorTick, customValues: reflMinorTicks },
          axisLabel: { show: false },
          splitLine: { show: false },
        },
        {
          ...logAxisBase, gridIndex: 1, position: 'left',
          axisTick: { show: true, inside: false, length: 16, lineStyle: majorTick, customValues: reflMajorTicks },
          axisLabel: { show: false },
          splitLine: { show: false },
        },
        {
          ...logAxisBase, gridIndex: 1, position: 'left',
          axisTick: { show: true, inside: false, length: 9, lineStyle: minorTick, customValues: reflMinorTicks },
          axisLabel: { show: false },
          splitLine: { show: false },
        },
      ],
      legend: [
        { data: [concentrations[0], concentrations[1]], left: 1406, top: 1179 },
        { data: [concentrations[2], concentrations[3]], left: 1683, top: 1179 },
        { data: [concentrations[4]], left: 1990, top: 1179 },
      ].map((l) => ({
        ...l,
        orient: 'vertical',
        icon: 'rect',
        itemWidth: 99,
        itemHeight: 6,
        itemGap: 20,
        padding: 0,
        selectedMode: false,
        z: 20,
        textStyle: { fontFamily: FONT, fontSize: 43, lineHeight: 46, color: '#000', padding: [0, 0, 0, 28] },
      })),
      graphic: [
        { type: 'rect', shape: { x: 0, y: 0, width: 6, height: 1471 }, style: { fill: '#179c7d' }, z: 100 },
        {
          type: 'rect', z: 10,
          shape: { x: 1391, y: 1090, width: 834, height: 220, r: 8 },
          style: { fill: 'rgba(255,255,255,0.8)', stroke: '#cccccc', lineWidth: 3 },
        },
        {
          type: 'text', z: 21, x: 1808, y: 1129,
          style: { text: LEGEND_TITLE, fontFamily: FONT, fontSize: 52, fill: '#000', align: 'center', verticalAlign: 'middle' },
        },
        {
          type: 'text', z: 21, x: 1550, y: 79,
          style: { text: TITLE, fontFamily: FONT, fontSize: 44.5, fill: '#000', align: 'center', verticalAlign: 'middle' },
        },
      ],
      series: [
        ...spectra.map((data, i) => ({
          type: 'line',
          name: concentrations[i],
          data,
          xAxisIndex: 0,
          yAxisIndex: 0,
          showSymbol: false,
          symbol: 'none',
          clip: true,
          z: 2 + i,
          color: seriesColors[i],
          lineStyle: { width: 5.5, color: seriesColors[i] },
          itemStyle: { color: seriesColors[i] },
          emphasis: { disabled: true },
        })),
        {
          type: 'custom',
          name: 'box',
          xAxisIndex: 1,
          yAxisIndex: 2,
          silent: true,
          z: 5,
          data: boxPositions.map((p, i) => [p, ...boxStats[i]]),
          encode: { x: 0, y: [1, 2, 3, 4, 5] },
          renderItem: (params: any, api: any) => {
            const x = api.value(0);
            const lo = api.coord([x, api.value(1)]);
            const q1 = api.coord([x, api.value(2)]);
            const med = api.coord([x, api.value(3)]);
            const q3 = api.coord([x, api.value(4)]);
            const hi = api.coord([x, api.value(5)]);
            const cx = lo[0];
            const bw = 18;
            const cw = 11;
            const ls = { stroke: '#000', lineWidth: 3 };
            return {
              type: 'group',
              children: [
                { type: 'line', shape: { x1: cx, y1: q1[1], x2: cx, y2: lo[1] }, style: ls },
                { type: 'line', shape: { x1: cx, y1: q3[1], x2: cx, y2: hi[1] }, style: ls },
                { type: 'line', shape: { x1: cx - cw, y1: lo[1], x2: cx + cw, y2: lo[1] }, style: ls },
                { type: 'line', shape: { x1: cx - cw, y1: hi[1], x2: cx + cw, y2: hi[1] }, style: ls },
                {
                  type: 'rect',
                  shape: { x: cx - bw, y: q3[1], width: 2 * bw, height: q1[1] - q3[1] },
                  style: { fill: seriesColors[params.dataIndex], stroke: '#000', lineWidth: 3 },
                },
                { type: 'line', shape: { x1: cx - bw, y1: med[1], x2: cx + bw, y2: med[1] }, style: ls },
              ],
            };
          },
        },
      ],
    };

    chart.setOption(option);
    return () => {
      chart.dispose();
    };
  }, []);

  return (
    <div
      ref={ref}
      style={{ position: 'fixed', left: 0, top: 0, width: 3145, height: 1471, background: '#fff' }}
    />
  );
}
